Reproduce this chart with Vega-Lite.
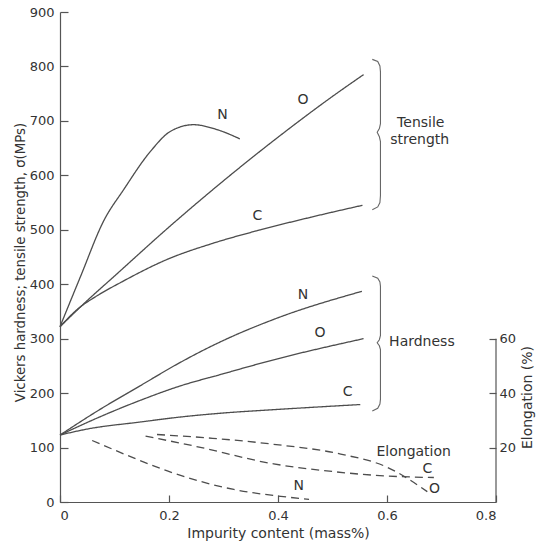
{
  "$schema": "https://vega.github.io/schema/vega-lite/v6.json",
  "width": 436,
  "height": 490,
  "autosize": {"type": "none"},
  "padding": {"left": 60, "top": 12, "right": 42, "bottom": 44},
  "background": "white",
  "config": {
    "view": {"stroke": null},
    "font": "DejaVu Sans",
    "axis": {
      "grid": false,
      "domainColor": "#555",
      "tickColor": "#555",
      "labelColor": "#333",
      "titleColor": "#333",
      "labelFont": "DejaVu Sans",
      "titleFont": "DejaVu Sans",
      "labelFontSize": 13,
      "titleFontSize": 14,
      "titleFontWeight": "normal",
      "domainWidth": 1.2,
      "tickWidth": 1.2
    }
  },
  "datasets": {
    "curves": [
      {"prop": "Tensile", "el": "N", "x": 0, "y": 322},
      {"prop": "Tensile", "el": "N", "x": 0.038, "y": 415},
      {"prop": "Tensile", "el": "N", "x": 0.08, "y": 516},
      {"prop": "Tensile", "el": "N", "x": 0.117, "y": 574},
      {"prop": "Tensile", "el": "N", "x": 0.166, "y": 644},
      {"prop": "Tensile", "el": "N", "x": 0.203, "y": 681},
      {"prop": "Tensile", "el": "N", "x": 0.245, "y": 693},
      {"prop": "Tensile", "el": "N", "x": 0.288, "y": 684},
      {"prop": "Tensile", "el": "N", "x": 0.33, "y": 667},
      {"prop": "Tensile", "el": "O", "x": 0, "y": 322},
      {"prop": "Tensile", "el": "O", "x": 0.05, "y": 370},
      {"prop": "Tensile", "el": "O", "x": 0.1, "y": 415},
      {"prop": "Tensile", "el": "O", "x": 0.2, "y": 505},
      {"prop": "Tensile", "el": "O", "x": 0.3, "y": 590},
      {"prop": "Tensile", "el": "O", "x": 0.4, "y": 670},
      {"prop": "Tensile", "el": "O", "x": 0.5, "y": 745},
      {"prop": "Tensile", "el": "O", "x": 0.557, "y": 785},
      {"prop": "Tensile", "el": "C", "x": 0, "y": 322},
      {"prop": "Tensile", "el": "C", "x": 0.032, "y": 354},
      {"prop": "Tensile", "el": "C", "x": 0.07, "y": 380},
      {"prop": "Tensile", "el": "C", "x": 0.111, "y": 403},
      {"prop": "Tensile", "el": "C", "x": 0.2, "y": 447},
      {"prop": "Tensile", "el": "C", "x": 0.28, "y": 475},
      {"prop": "Tensile", "el": "C", "x": 0.368, "y": 500},
      {"prop": "Tensile", "el": "C", "x": 0.46, "y": 523},
      {"prop": "Tensile", "el": "C", "x": 0.555, "y": 545},
      {"prop": "Hardness", "el": "N", "x": 0, "y": 123},
      {"prop": "Hardness", "el": "N", "x": 0.07, "y": 168},
      {"prop": "Hardness", "el": "N", "x": 0.148, "y": 214},
      {"prop": "Hardness", "el": "N", "x": 0.22, "y": 256},
      {"prop": "Hardness", "el": "N", "x": 0.294, "y": 294},
      {"prop": "Hardness", "el": "N", "x": 0.399, "y": 338},
      {"prop": "Hardness", "el": "N", "x": 0.554, "y": 387},
      {"prop": "Hardness", "el": "O", "x": 0, "y": 123},
      {"prop": "Hardness", "el": "O", "x": 0.07, "y": 155},
      {"prop": "Hardness", "el": "O", "x": 0.148, "y": 187},
      {"prop": "Hardness", "el": "O", "x": 0.22, "y": 213},
      {"prop": "Hardness", "el": "O", "x": 0.294, "y": 234},
      {"prop": "Hardness", "el": "O", "x": 0.399, "y": 263},
      {"prop": "Hardness", "el": "O", "x": 0.557, "y": 300},
      {"prop": "Hardness", "el": "C", "x": 0, "y": 123},
      {"prop": "Hardness", "el": "C", "x": 0.05, "y": 134},
      {"prop": "Hardness", "el": "C", "x": 0.148, "y": 147},
      {"prop": "Hardness", "el": "C", "x": 0.22, "y": 156},
      {"prop": "Hardness", "el": "C", "x": 0.294, "y": 163},
      {"prop": "Hardness", "el": "C", "x": 0.399, "y": 170},
      {"prop": "Hardness", "el": "C", "x": 0.551, "y": 179}
    ],
    "braces": [
      {"b": "T", "ord": 1, "x": 0.573, "y": 813},
      {"b": "T", "ord": 2, "x": 0.583, "y": 809},
      {"b": "T", "ord": 3, "x": 0.587, "y": 801},
      {"b": "T", "ord": 4, "x": 0.588, "y": 790},
      {"b": "T", "ord": 5, "x": 0.588, "y": 695},
      {"b": "T", "ord": 6, "x": 0.586, "y": 686},
      {"b": "T", "ord": 7, "x": 0.582, "y": 679},
      {"b": "T", "ord": 8, "x": 0.586, "y": 671},
      {"b": "T", "ord": 9, "x": 0.588, "y": 662},
      {"b": "T", "ord": 10, "x": 0.588, "y": 563},
      {"b": "T", "ord": 11, "x": 0.587, "y": 550},
      {"b": "T", "ord": 12, "x": 0.583, "y": 542},
      {"b": "T", "ord": 13, "x": 0.573, "y": 537},
      {"b": "H", "ord": 1, "x": 0.573, "y": 415},
      {"b": "H", "ord": 2, "x": 0.583, "y": 411},
      {"b": "H", "ord": 3, "x": 0.587, "y": 404},
      {"b": "H", "ord": 4, "x": 0.588, "y": 396},
      {"b": "H", "ord": 5, "x": 0.588, "y": 306},
      {"b": "H", "ord": 6, "x": 0.586, "y": 298},
      {"b": "H", "ord": 7, "x": 0.582, "y": 292.5},
      {"b": "H", "ord": 8, "x": 0.586, "y": 287},
      {"b": "H", "ord": 9, "x": 0.588, "y": 280},
      {"b": "H", "ord": 10, "x": 0.588, "y": 189},
      {"b": "H", "ord": 11, "x": 0.587, "y": 180},
      {"b": "H", "ord": 12, "x": 0.583, "y": 172},
      {"b": "H", "ord": 13, "x": 0.573, "y": 167}
    ],
    "labels": [
      {"t": "N", "x": 0.298, "y": 711},
      {"t": "O", "x": 0.446, "y": 739},
      {"t": "C", "x": 0.362, "y": 525},
      {"t": "N", "x": 0.446, "y": 381},
      {"t": "O", "x": 0.477, "y": 311},
      {"t": "C", "x": 0.528, "y": 202},
      {"t": "Tensile", "x": 0.662, "y": 697},
      {"t": "strength", "x": 0.66, "y": 664},
      {"t": "Hardness", "x": 0.664, "y": 294},
      {"t": "Elongation", "x": 0.649, "y": 92.5},
      {"t": "C", "x": 0.674, "y": 61},
      {"t": "O", "x": 0.687, "y": 24.6},
      {"t": "N", "x": 0.438, "y": 29.4}
    ],
    "elong": [
      {"el": "N", "x": 0.059, "e": 22.6},
      {"el": "N", "x": 0.135, "e": 16.2},
      {"el": "N", "x": 0.197, "e": 11.4},
      {"el": "N", "x": 0.319, "e": 4.6},
      {"el": "N", "x": 0.4, "e": 2.2},
      {"el": "N", "x": 0.457, "e": 1.0},
      {"el": "C", "x": 0.157, "e": 24.2},
      {"el": "C", "x": 0.25, "e": 20.4},
      {"el": "C", "x": 0.392, "e": 14.0},
      {"el": "C", "x": 0.5, "e": 11.2},
      {"el": "C", "x": 0.594, "e": 9.6},
      {"el": "C", "x": 0.686, "e": 9.0},
      {"el": "O", "x": 0.178, "e": 24.8},
      {"el": "O", "x": 0.28, "e": 23.4},
      {"el": "O", "x": 0.392, "e": 21.2},
      {"el": "O", "x": 0.515, "e": 17.6},
      {"el": "O", "x": 0.6, "e": 12.8},
      {"el": "O", "x": 0.674, "e": 3.8}
    ],
    "raxis": [
      {"x": 0.8, "lo": 0, "hi": 60}
    ]
  },
  "encoding": {
    "x": {
      "field": "x", "type": "quantitative",
      "scale": {"domain": [0, 0.8], "nice": false, "zero": false},
      "axis": {
        "values": [0, 0.2, 0.4, 0.6, 0.8],
        "format": ".1~f",
        "tickSize": -7,
        "labelPadding": 14,
        "title": "Impurity content (mass%)",
        "titleBaseline": "middle",
        "titleY": 31
      }
    }
  },
  "layer": [
    {
      "data": {"name": "curves"},
      "mark": {"type": "line", "interpolate": "monotone", "color": "#4d4d4d", "strokeWidth": 1.3},
      "encoding": {
        "y": {
          "field": "y", "type": "quantitative",
          "scale": {"domain": [0, 900], "nice": false},
          "axis": {
            "values": [0, 100, 200, 300, 400, 500, 600, 700, 800, 900],
            "tickSize": -8,
            "labelPadding": 14,
            "title": "Vickers hardness; tensile strength, σ(MPs)",
            "titleFontSize": 13.3,
            "titleAngle": 270,
            "titleBaseline": "bottom",
            "titleX": -33,
            "titleY": 250,
            "titleAlign": "center"
          }
        },
        "detail": {"field": "prop"},
        "strokeDash": {"field": "el", "legend": null, "scale": {"range": [[1, 0], [1, 0], [1, 0]]}}
      }
    },
    {
      "data": {"name": "braces"},
      "mark": {"type": "line", "interpolate": "linear", "color": "#666", "strokeWidth": 1.1},
      "encoding": {
        "y": {"field": "y", "type": "quantitative", "axis": null, "scale": {"domain": [0, 900], "nice": false}},
        "detail": {"field": "b"},
        "order": {"field": "ord"}
      }
    },
    {
      "data": {"name": "labels"},
      "mark": {"type": "text", "fontSize": 14, "color": "#333", "align": "center", "baseline": "middle", "font": "DejaVu Sans"},
      "encoding": {
        "y": {"field": "y", "type": "quantitative", "axis": null, "scale": {"domain": [0, 900], "nice": false}},
        "text": {"field": "t"}
      }
    },
    {
      "data": {"name": "elong"},
      "mark": {"type": "line", "interpolate": "monotone", "color": "#4d4d4d", "strokeWidth": 1.3, "strokeDash": [8, 5]},
      "encoding": {
        "y": {
          "field": "e", "type": "quantitative",
          "scale": {"domain": [0, 180], "nice": false},
          "axis": {
            "orient": "right",
            "values": [20, 40, 60],
            "domain": false,
            "tickSize": -7,
            "labelPadding": 10,
            "title": "Elongation (%)",
            "titleAngle": 270,
            "titleBaseline": "bottom",
            "titleAlign": "center",
            "titleX": 38,
            "titleY": 385
          }
        },
        "detail": {"field": "el"}
      }
    },
    {
      "data": {"name": "raxis"},
      "mark": {"type": "rule", "color": "#555", "strokeWidth": 1.2},
      "encoding": {
        "y": {"field": "lo", "type": "quantitative", "axis": null, "scale": {"domain": [0, 180], "nice": false}},
        "y2": {"field": "hi"}
      }
    }
  ],
  "resolve": {"scale": {"y": "independent"}, "axis": {"y": "independent"}}
}
